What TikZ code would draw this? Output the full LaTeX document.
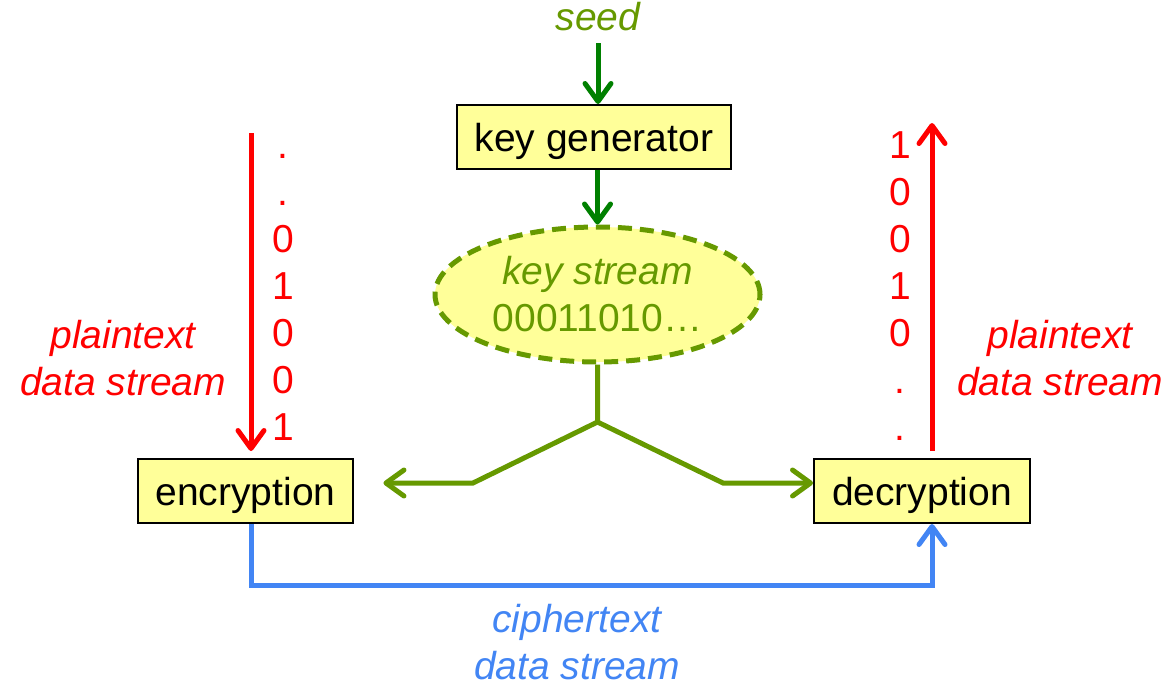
\documentclass[tikz,border=0pt]{standalone}
\usepackage{fontspec}
\setmainfont{Liberation Sans}
\usetikzlibrary{shapes.geometric,arrows.meta}
\definecolor{darkgreen}{RGB}{0,128,0}
\definecolor{keygreen}{RGB}{102,153,0}
\definecolor{boxyellow}{RGB}{255,255,153}
\definecolor{cipherblue}{RGB}{66,133,244}
\newcommand{\sz}{\fontsize{39}{47}\selectfont}

\begin{document}
\begin{tikzpicture}[x=1pt,y=1pt,
  every node/.style={font=\sz,inner sep=0pt},
  box/.style={draw=black,line width=2pt,fill=boxyellow,minimum height=64pt,
    inner xsep=18pt,text height=28pt,text depth=0pt},
  flow/.style={line width=5pt,-{Straight Barb[length=18pt,width=26pt,round]}}]
  \useasboundingbox (0,0) rectangle (1174,-686);
  \node[keygreen,font=\sz\itshape,anchor=base] (seed) at (598,-30.5) {seed};
  \node[box] (keygen) at (594,-137) {key generator};
  \node[box] (enc) at (245.5,-491) {encryption};
  \node[box] (dec) at (922,-491) {decryption};
  \node[ellipse,draw=keygreen,line width=5pt,dash pattern=on 14pt off 8pt,
    fill=boxyellow,minimum width=325pt,minimum height=135pt,text=keygreen,align=center]
    (ks) at (597.5,-294.5) {{\itshape key stream}\\00011010…};
  % bits going in and coming out
  \foreach \b [count=\i] in {.,.,0,1,0,0,1}
    \node[red,anchor=base] (pin\i) at (283,{-158-47*(\i-1)}) {\b};
  \foreach \b [count=\i] in {1,0,0,1,0,.,.}
    \node[red,anchor=base] (pout\i) at (900,{-158-47*(\i-1)}) {\b};
  \node[red,font=\sz\itshape,align=center] (plin) at (123,-358) {plaintext\\data stream};
  \node[red,font=\sz\itshape,align=center] (plout) at (1060,-358) {plaintext\\data stream};
  \node[cipherblue,font=\sz\itshape,align=center] (ciph) at (577,-642) {ciphertext\\data stream};
  \coordinate (src) at (251,-133);
  \coordinate (sink) at (932,-123);
  \coordinate (fork) at (597.5,-422);
  \coordinate (bendl) at (473,-483);
  \coordinate (bendr) at (723,-483);
  % connectors
  \draw[flow,darkgreen,shorten <=12pt] (seed.south) -- (seed.south |- keygen.north);
  \draw[flow,darkgreen] (keygen.south -| ks.north) -- (ks.north);
  \draw[flow,keygreen,shorten >=29pt] (ks.south) -- (fork) -- (bendl) -- (bendl -| enc.east);
  \draw[flow,keygreen] (fork) -- (bendr) -- (bendr -| dec.west);
  \draw[flow,red,shorten >=7pt] (src) -- (src |- enc.north);
  \draw[flow,red,shorten <=7pt] (sink |- dec.north) -- (sink);
  \draw[flow,cipherblue] (src |- enc.south) -- (src |- 0,-585) -- (sink |- 0,-585) -- (sink |- dec.south);
\end{tikzpicture}
\end{document}
